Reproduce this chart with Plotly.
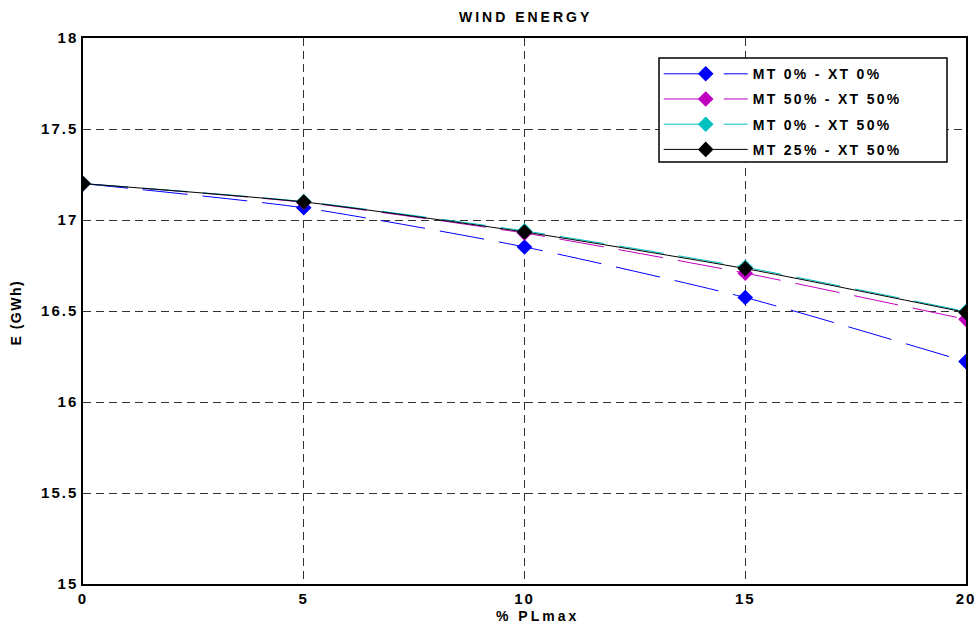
import plotly.graph_objects as go

# % of PLmax on the x axis
pl_max = [0, 5, 10, 15, 20]

# wind energy (GWh) for each MT / XT combination
mt0_xt0 = [17.20, 17.067, 16.852, 16.574, 16.222]
mt50_xt50 = [17.20, 17.097, 16.928, 16.708, 16.454]
mt0_xt50 = [17.20, 17.101, 16.940, 16.740, 16.497]
mt25_xt50 = [17.20, 17.099, 16.934, 16.733, 16.492]

x_ticks = [0, 5, 10, 15, 20]
y_ticks = [15, 15.5, 16, 16.5, 17, 17.5, 18]

series = [
    ("MT 0% - XT 0%", mt0_xt0, "#0000ff", "45px,15px"),
    ("MT 50% - XT 50%", mt50_xt50, "#c000c0", "45px,15px"),
    ("MT 0% - XT 50%", mt0_xt50, "#00c0c0", "45px,15px"),
    ("MT 25% - XT 50%", mt25_xt50, "#000000", "solid"),
]

FONT = "Liberation Sans, Arial, sans-serif"


def spaced(text, px):
    return f'<span style="letter-spacing:{px}px">{text}</span>'


def fmt(v):
    return f"{v:g}"


fig = go.Figure()
for i, (name, vals, color, dash) in enumerate(series):
    fig.add_trace(go.Scatter(
        x=pl_max, y=vals, name=spaced(name, 2.3), mode="lines+markers",
        legendgroup=f"g{i}",
        line=dict(color=color, width=1, dash=dash, shape="spline", smoothing=0.6),
        marker=dict(symbol="diamond", size=12, color=color),
    ))

axis_common = dict(showgrid=True, gridcolor="#333333", griddash="8px,5px", gridwidth=1,
                   showline=True, linecolor="black", linewidth=1.5, mirror=True,
                   ticks="", zeroline=False, automargin=False,
                   tickfont=dict(family=FONT, size=15, color="black", weight="bold"))

fig.update_xaxes(range=[0, 20], tickvals=x_ticks,
                 ticktext=[spaced(fmt(v), 2) for v in x_ticks], **axis_common)
fig.update_yaxes(range=[15, 18], tickvals=y_ticks,
                 ticktext=[spaced(fmt(v), 2) for v in y_ticks], **axis_common)

title_font = dict(family=FONT, size=14, color="black", weight="bold")
fig.add_annotation(text=spaced("% PLmax", 3), xref="paper", yref="paper",
                   x=0.515, y=-0.0586, xanchor="center", yanchor="middle",
                   showarrow=False, font=title_font)
fig.add_annotation(text=spaced("E (GWh)", 1.5), xref="paper", yref="paper",
                   x=-0.064, y=0.498, xanchor="right", yanchor="middle", textangle=-90,
                   showarrow=False, font=title_font)

# legend frame
fig.add_shape(type="rect", xref="paper", yref="paper",
              x0=(659 - 83) / 883, x1=(947 - 83) / 883,
              y0=(584 - 162) / 546, y1=(584 - 58) / 546,
              line=dict(color="black", width=1.5), fillcolor="white", layer="above")

fig.update_layout(
    width=977, height=625,
    margin=dict(l=83, r=11, t=38, b=41),
    paper_bgcolor="white", plot_bgcolor="white",
    title=dict(text=spaced("WIND ENERGY", 3), x=0.538, xanchor="center",
               y=0.972, yanchor="middle",
               font=dict(family=FONT, size=14, color="black", weight="bold")),
    legend=dict(x=0.652, y=0.963, xanchor="left", yanchor="top",
                bgcolor="rgba(0,0,0,0)", borderwidth=0,
                font=dict(family=FONT, size=14, color="black", weight="bold"),
                traceorder="grouped", tracegroupgap=4, itemwidth=84),
    showlegend=True,
)

fig.write_html("out.html")
